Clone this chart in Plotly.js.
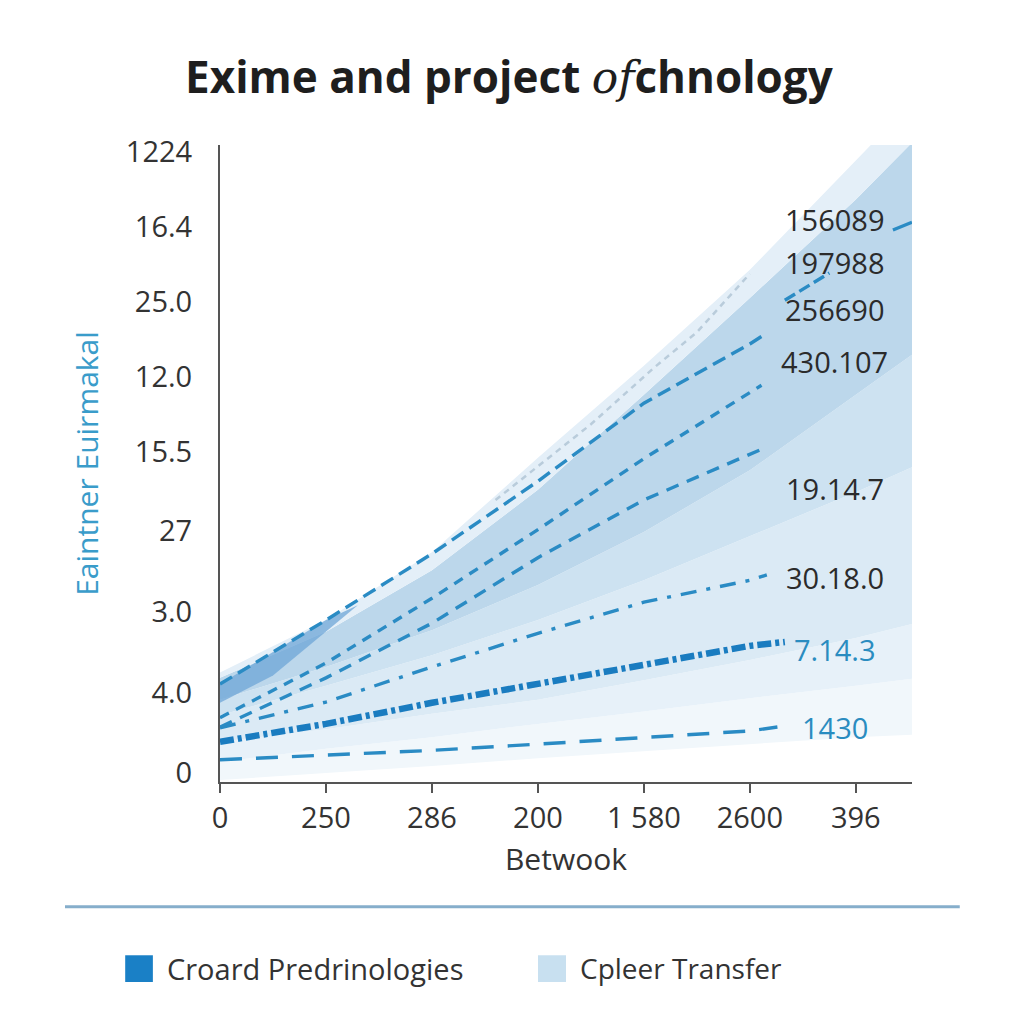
<!DOCTYPE html>
<html>
<head>
<meta charset="utf-8">
<script src="https://cdn.plot.ly/plotly-3.0.1.min.js"></script>
<style>html,body{margin:0;padding:0;background:#fff;}#chart{width:1024px;height:1024px;}</style>
</head>
<body>
<div id="chart"></div>
<script>
// ---- data ----
const xTickLabels = ["0", "250", "286", "200", "1 580", "2600", "396"];
const yTickLabels = ["0", "4.0", "3.0", "27", "15.5", "12.0", "25.0", "16.4", "1224"];
const yTickVals = [0, 1.03, 2.06, 3.1, 4.12, 5.08, 6.04, 7.0, 7.96];

const bandX = [0, 1, 2, 3, 4, 5, 6, 6.53];
const band0 = [-0.09, 0.0, 0.09, 0.19, 0.28, 0.37, 0.46, 0.49];
const band1 = [0.14, 0.31, 0.46, 0.63, 0.79, 0.96, 1.12, 1.21];
const band2 = [0.40, 0.56, 0.76, 0.94, 1.19, 1.45, 1.73, 1.91];
const band3 = [0.74, 1.12, 1.51, 1.96, 2.47, 3.03, 3.60, 3.92];
const band4 = [0.94, 1.36, 1.83, 2.41, 3.09, 3.88, 4.85, 5.36];
const band5 = [1.22, 1.81, 2.60, 3.63, 4.85, 6.09, 7.35, 8.08];
const band6 = [1.29, 1.96, 2.83, 4.04, 5.22, 6.45, 7.85, 8.6];

const wedgeX = [0, 0.5, 1.0, 1.3, 0.5, 0];
const wedgeY = [1.14, 1.55, 1.96, 2.15, 1.25, 0.90];

const s1430X = [0, 1, 2, 3, 4, 5, 5.26];
const s1430Y = [0.17, 0.23, 0.29, 0.37, 0.45, 0.54, 0.59];
const s7143X = [0, 1, 2, 3, 4, 5, 5.33];
const s7143Y = [0.40, 0.63, 0.90, 1.15, 1.40, 1.63, 1.68];
const s30180X = [0, 1, 2, 3, 4, 5, 5.16];
const s30180Y = [0.58, 0.91, 1.36, 1.79, 2.19, 2.47, 2.54];
const s19147X = [0, 1, 2, 3, 4, 5, 5.11];
const s19147Y = [0.59, 1.22, 1.92, 2.76, 3.50, 4.08, 4.15];
const s430107X = [0, 1, 2, 3, 4, 5, 5.11];
const s430107Y = [0.71, 1.41, 2.24, 3.12, 4.03, 4.87, 4.97];
const s256690X = [0, 1, 2, 3, 4, 5, 5.16];
const s256690Y = [1.14, 1.96, 2.81, 3.74, 4.74, 5.50, 5.64];
const s197988X = [5.33, 5.75];
const s197988Y = [6.06, 6.41];
const s156089X = [6.35, 6.53];
const s156089Y = [6.96, 7.06];
const greyX = [2.6, 3.5, 4.1, 4.5, 5.0];
const greyY = [3.5, 4.47, 5.2, 5.65, 6.4];

const labelTexts = ["156089", "197988", "256690", "430.107", "19.14.7", "30.18.0", "7.14.3", "1430"];
const labelY = [7.09, 6.54, 5.94, 5.28, 3.65, 2.51, 1.58, 0.58];
const labelBlue = [false, false, false, false, false, false, true, true];

const legendNames = ["Croard Predrinologies", "Cpleer Transfer"];

// ---- traces ----
const FONT = 'Open Sans, sans-serif';
const traces = [];
function band(y, fill, color) {
  traces.push({x: bandX, y: y, type: 'scatter', mode: 'lines', line: {width: 0, color: 'rgba(0,0,0,0)'},
    fill: fill, fillcolor: color, hoverinfo: 'skip', showlegend: false});
}
band(band0, 'none', 'rgba(0,0,0,0)');
band(band1, 'tonexty', '#f1f7fb');
band(band2, 'tonexty', '#e7f1f9');
band(band3, 'tonexty', '#dbeaf5');
band(band4, 'tonexty', '#cde2f1');
band(band5, 'tonexty', '#bcd7eb');
band(band6, 'tonexty', '#e4eff8');

traces.push({x: wedgeX, y: wedgeY, type: 'scatter', mode: 'lines', fill: 'toself',
  fillcolor: 'rgba(110,165,215,0.75)', line: {width: 0}, hoverinfo: 'skip', showlegend: false});

function line(x, y, color, width, dash) {
  traces.push({x: x, y: y, type: 'scatter', mode: 'lines', line: {color: color, width: width, dash: dash},
    hoverinfo: 'skip', showlegend: false});
}
line(greyX, greyY, '#b9ccdb', 2.5, '6px,5px');
line(s1430X, s1430Y, '#2a8bc4', 3.4, '22px,14px');
line(s7143X, s7143Y, '#1a7cc0', 6.5, '14px,4px,4px,4px');
line(s30180X, s30180Y, '#2a8bc4', 3.4, '16px,10px,4px,10px');
line(s19147X, s19147Y, '#2a8bc4', 3.4, '13px,9px');
line(s430107X, s430107Y, '#2a8bc4', 3.4, '10px,8px');
line(s256690X, s256690Y, '#2a8bc4', 3.4, '14px,7px');
line(s197988X, s197988Y, '#2a8bc4', 3.4, '12px,5px');
line(s156089X, s156089Y, '#2a8bc4', 3.4, 'solid');

// ---- annotations ----
const annotations = labelTexts.map((t, i) => ({
  x: 5.8, y: labelY[i], xref: 'x', yref: 'y', text: t, showarrow: false,
  xanchor: 'center', yanchor: 'middle',
  font: {family: FONT, size: 29, color: labelBlue[i] ? '#2a8cc0' : '#2b2b2b'}
}));
annotations.push({x: -0.0795, y: -0.292, xref: 'paper', yref: 'paper', text: legendNames[0], showarrow: false,
  xanchor: 'left', yanchor: 'middle', font: {family: FONT, size: 29, color: '#333'}});
annotations.push({x: 0.517, y: -0.292, xref: 'paper', yref: 'paper', text: legendNames[1], showarrow: false,
  xanchor: 'left', yanchor: 'middle', font: {family: FONT, size: 28, color: '#333'}});

const shapes = [
  {type: 'line', xref: 'paper', yref: 'paper', x0: -0.224, x1: 1.069, y0: -0.196, y1: -0.196,
   line: {color: '#86aecb', width: 3}},
  {type: 'rect', xref: 'paper', yref: 'paper', x0: -0.137, x1: -0.097, y0: -0.314, y1: -0.272,
   fillcolor: '#1a80c6', line: {width: 0}},
  {type: 'rect', xref: 'paper', yref: 'paper', x0: 0.4595, x1: 0.5, y0: -0.314, y1: -0.272,
   fillcolor: '#c8e0f0', line: {width: 0}}
];

const layout = {
  width: 1024, height: 1024,
  margin: {l: 220, r: 112, t: 145, b: 242},
  paper_bgcolor: '#ffffff', plot_bgcolor: '#ffffff',
  title: {
    text: '<b>Exime and project </b><i><span style="font-family:DejaVu Serif;font-weight:normal">of</span></i><b>chnology</b>',
    x: 0.497, xref: 'container', xanchor: 'center',
    y: 0.924, yref: 'container', yanchor: 'middle',
    font: {family: FONT, size: 44, color: '#1e1e1e'}
  },
  xaxis: {
    range: [0, 6.53], tickvals: [0, 1, 2, 3, 4, 5, 6], ticktext: xTickLabels,
    showline: true, linecolor: '#555', linewidth: 2, showgrid: false, zeroline: false,
    ticks: 'outside', ticklen: 9, tickwidth: 2, tickcolor: '#555',
    tickfont: {family: FONT, size: 29, color: '#333'},
    title: {text: 'Betwook', standoff: 14, font: {family: FONT, size: 30, color: '#333'}},
    automargin: false, fixedrange: true
  },
  yaxis: {
    range: [-0.115, 8.05], tickvals: yTickVals, ticktext: yTickLabels,
    showline: true, linecolor: '#555', linewidth: 2, showgrid: false, zeroline: false,
    ticks: '', ticklabelstandoff: 20,
    tickfont: {family: FONT, size: 29, color: '#333'},
    title: {text: 'Eaintner Euirmakal', standoff: 18, font: {family: FONT, size: 30, color: '#3a9cca'}},
    automargin: false, fixedrange: true
  },
  annotations: annotations,
  shapes: shapes,
  showlegend: false
};

Plotly.newPlot('chart', traces, layout, {staticPlot: true, displayModeBar: false});
</script>
</body>
</html>
